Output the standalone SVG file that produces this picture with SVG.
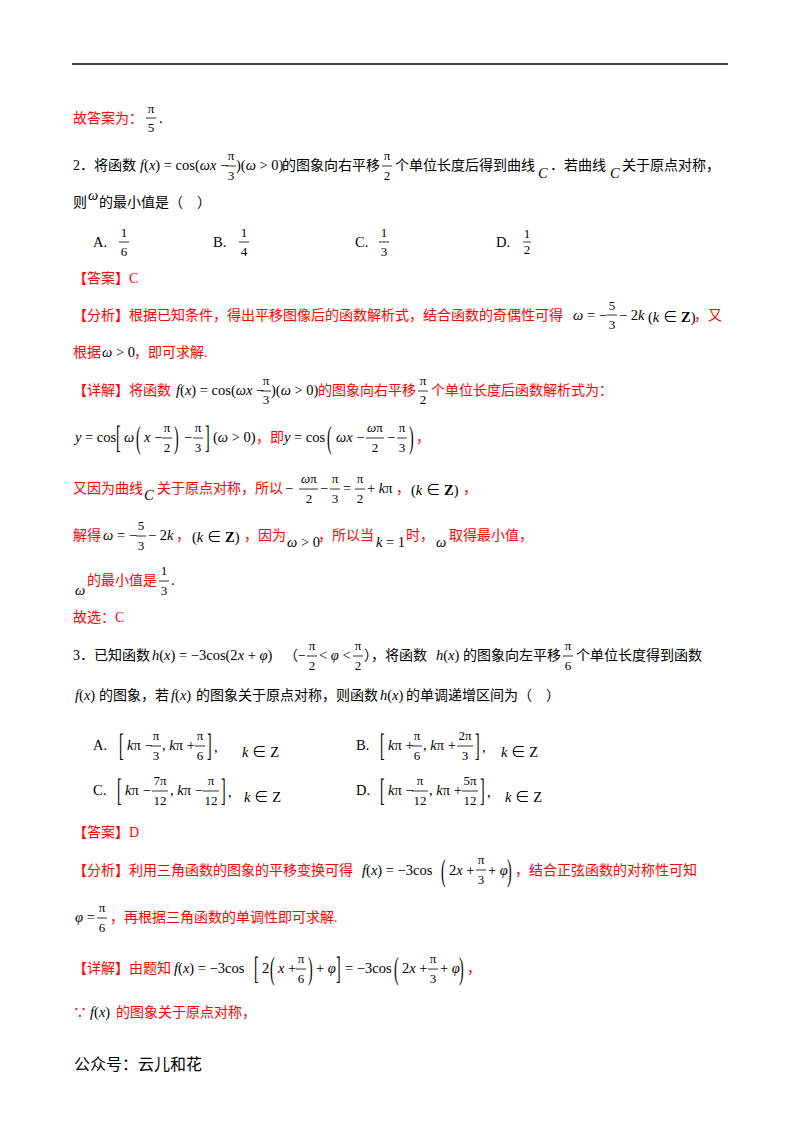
<svg xmlns="http://www.w3.org/2000/svg" width="800" height="1132" viewBox="0 0 800 1132">
<style>
text{font-family:"Liberation Serif","Noto Sans CJK SC",serif;font-size:14.5px;fill:#000}
.c{font-size:14px}
.r{fill:#ff0000;font-size:14px}
.i{font-style:italic}
.f text{font-size:13px;text-anchor:middle}
.f line{stroke:#000;stroke-width:0.8}
.bk{font-size:14px}
.ss{font-family:"Noto Sans CJK SC",sans-serif;font-size:16px}
</style>
<rect width="800" height="1132" fill="#fff"/>
<line x1="72" y1="64" x2="728" y2="64" stroke="#000" stroke-width="1.5"/>

<text x="73" y="123" class="r">故答案为：</text>
<g class="f"><text x="151" y="113">π</text><line x1="146" y1="118" x2="156" y2="118"/><text x="151" y="132">5</text></g>
<text x="159" y="123">.</text>

<text x="73" y="170" class="c">2．将函数</text>
<text x="140" y="170"><tspan class="i">f</tspan>(<tspan class="i">x</tspan>) = cos(<tspan class="i">ωx</tspan> −</text>
<g class="f"><text x="231" y="160">π</text><line x1="226" y1="166" x2="236" y2="166"/><text x="231" y="180">3</text></g>
<text x="236" y="170">)(<tspan class="i">ω</tspan> &gt; 0)</text>
<text x="282" y="170" class="c">的图象向右平移</text>
<g class="f"><text x="387" y="160">π</text><line x1="382" y1="166" x2="392" y2="166"/><text x="387" y="180">2</text></g>
<text x="395" y="170" class="c">个单位长度后得到曲线</text>
<text x="538" y="178" class="i" font-size="16">C</text>
<text x="550" y="170" class="c">．若曲线</text>
<text x="610" y="178" class="i" font-size="16">C</text>
<text x="622" y="170" class="c">关于原点对称，</text>

<text x="73" y="207" class="c">则</text><text x="88" y="200" class="i">ω</text><text x="99" y="207" class="c">的最小值是（　）</text>

<text x="93" y="247">A.</text>
<g class="f"><text x="124" y="237">1</text><line x1="119" y1="242" x2="129" y2="242"/><text x="124" y="256">6</text></g>
<text x="213" y="247">B.</text>
<g class="f"><text x="244" y="237">1</text><line x1="239" y1="242" x2="249" y2="242"/><text x="244" y="256">4</text></g>
<text x="355" y="247">C.</text>
<g class="f"><text x="384" y="237">1</text><line x1="379" y1="242" x2="389" y2="242"/><text x="384" y="256">3</text></g>
<text x="496" y="247">D.</text>
<g class="f"><text x="527" y="238" font-size="11">1</text><line x1="523" y1="242" x2="531" y2="242"/><text x="527" y="254" font-size="11">2</text></g>

<text x="73" y="283" class="r">【答案】C</text>

<text x="73" y="320" class="r">【分析】根据已知条件，得出平移图像后的函数解析式，结合函数的奇偶性可得</text>
<text x="573" y="320"><tspan class="i">ω</tspan> = −</text>
<g class="f"><text x="612" y="310">5</text><line x1="607" y1="315" x2="617" y2="315"/><text x="612" y="329">3</text></g>
<text x="619" y="320">− 2<tspan class="i">k</tspan></text>
<text x="648" y="322">(<tspan class="i">k</tspan> ∈ <tspan font-weight="bold">Z</tspan>)</text>
<text x="694" y="320" class="r">，又</text>
<text x="73" y="357" class="r">根据</text><text x="102" y="357"><tspan class="i">ω</tspan> &gt; 0</text><text x="134" y="357" class="r">，即可求解.</text>

<text x="73" y="395" class="r">【详解】将函数</text>
<text x="176" y="395"><tspan class="i">f</tspan>(<tspan class="i">x</tspan>) = cos(<tspan class="i">ωx</tspan> −</text>
<g class="f"><text x="266" y="385">π</text><line x1="261" y1="391" x2="271" y2="391"/><text x="266" y="404">3</text></g>
<text x="271" y="395">)(<tspan class="i">ω</tspan> &gt; 0)</text>
<text x="318" y="395" class="r">的图象向右平移</text>
<g class="f"><text x="423" y="385">π</text><line x1="418" y1="391" x2="428" y2="391"/><text x="423" y="404">2</text></g>
<text x="431" y="395" class="r">个单位长度后函数解析式为：</text>

<text x="75" y="442"><tspan class="i">y</tspan> = cos</text>
<text class="bk" transform="translate(116,448) scale(1,2.2)">[</text>
<text x="124" y="442" class="i">ω</text>
<text class="bk" transform="translate(136,448) scale(1,2.2)">(</text>
<text x="144" y="442"><tspan class="i">x</tspan> −</text>
<g class="f"><text x="167" y="432">π</text><line x1="162" y1="438" x2="172" y2="438"/><text x="167" y="452">2</text></g>
<text class="bk" transform="translate(174,448) scale(1,2.2)">)</text>
<text x="184" y="442">−</text>
<g class="f"><text x="198" y="432">π</text><line x1="193" y1="438" x2="203" y2="438"/><text x="198" y="452">3</text></g>
<text class="bk" transform="translate(205,448) scale(1,2.2)">]</text>
<text x="213" y="442">(<tspan class="i">ω</tspan> &gt; 0)</text><text x="256" y="442" class="r">，即</text>
<text x="284" y="442"><tspan class="i">y</tspan> = cos</text>
<text class="bk" transform="translate(327,448) scale(1,2.2)">(</text>
<text x="336" y="442"><tspan class="i">ωx</tspan> −</text>
<g class="f"><text x="375" y="432"><tspan class="i">ω</tspan>π</text><line x1="366" y1="438" x2="384" y2="438"/><text x="375" y="452">2</text></g>
<text x="387" y="442">−</text>
<g class="f"><text x="402" y="432">π</text><line x1="397" y1="438" x2="407" y2="438"/><text x="402" y="452">3</text></g>
<text class="bk" transform="translate(409,448) scale(1,2.2)">)</text>
<text x="416" y="442" class="r">，</text>

<text x="73" y="493" class="r">又因为曲线</text>
<text x="144" y="500" class="i" font-size="16">C</text>
<text x="157" y="493" class="r">关于原点对称，所以</text>
<text x="285" y="493">−</text>
<g class="f"><text x="309" y="483"><tspan class="i">ω</tspan>π</text><line x1="299" y1="489" x2="318" y2="489"/><text x="309" y="503">2</text></g>
<text x="320" y="493">−</text>
<g class="f"><text x="335" y="483">π</text><line x1="330" y1="489" x2="340" y2="489"/><text x="335" y="503">3</text></g>
<text x="343" y="493">=</text>
<g class="f"><text x="360" y="483">π</text><line x1="355" y1="489" x2="365" y2="489"/><text x="360" y="503">2</text></g>
<text x="367" y="493">+ <tspan class="i">k</tspan>π</text><text x="396" y="493" class="r">，</text>
<text x="411" y="495">(<tspan class="i">k</tspan> ∈ <tspan font-weight="bold">Z</tspan>)</text><text x="463" y="493" class="r">，</text>

<text x="73" y="540" class="r">解得</text>
<text x="103" y="540"><tspan class="i">ω</tspan> = −</text>
<g class="f"><text x="141" y="530">5</text><line x1="136" y1="536" x2="146" y2="536"/><text x="141" y="550">3</text></g>
<text x="148" y="540">− 2<tspan class="i">k</tspan></text><text x="176" y="540" class="r">，</text>
<text x="192" y="542">(<tspan class="i">k</tspan> ∈ <tspan font-weight="bold">Z</tspan>)</text><text x="244" y="540" class="r">，因为</text>
<text x="287" y="547"><tspan class="i">ω</tspan> &gt; 0</text><text x="318" y="540" class="r">，所以当</text>
<text x="376" y="547"><tspan class="i">k</tspan> = 1</text><text x="406" y="540" class="r">时，</text>
<text x="436" y="547" class="i">ω</text><text x="449" y="540" class="r">取得最小值，</text>

<text x="75" y="595" class="i">ω</text><text x="87" y="585" class="r">的最小值是</text>
<g class="f"><text x="164" y="575">1</text><line x1="159" y1="581" x2="169" y2="581"/><text x="164" y="595">3</text></g>
<text x="171" y="585">.</text>

<text x="73" y="622" class="r">故选：C</text>

<text x="73" y="660" class="c">3．已知函数</text>
<text x="152" y="660"><tspan class="i">h</tspan>(<tspan class="i">x</tspan>) = −3cos(2<tspan class="i">x</tspan> + <tspan class="i">φ</tspan>)</text>
<text x="284" y="660" class="c">（−</text>
<g class="f"><text x="312" y="650">π</text><line x1="307" y1="656" x2="317" y2="656"/><text x="312" y="670">2</text></g>
<text x="319" y="660">&lt; <tspan class="i">φ</tspan> &lt;</text>
<g class="f"><text x="358" y="650">π</text><line x1="353" y1="656" x2="363" y2="656"/><text x="358" y="670">2</text></g>
<text x="364" y="660" class="c">），将函数</text>
<text x="436" y="660"><tspan class="i">h</tspan>(<tspan class="i">x</tspan>)</text>
<text x="463" y="660" class="c">的图象向左平移</text>
<g class="f"><text x="568" y="650">π</text><line x1="563" y1="656" x2="573" y2="656"/><text x="568" y="670">6</text></g>
<text x="576" y="660" class="c">个单位长度得到函数</text>

<text x="75" y="700"><tspan class="i">f</tspan>(<tspan class="i">x</tspan>)</text>
<text x="99" y="700" class="c">的图象，若</text>
<text x="171" y="700"><tspan class="i">f</tspan>(<tspan class="i">x</tspan>)</text>
<text x="196" y="700" class="c">的图象关于原点对称，则函数</text>
<text x="380" y="700"><tspan class="i">h</tspan>(<tspan class="i">x</tspan>)</text>
<text x="406" y="700" class="c">的单调递增区间为（　）</text>

<text x="93" y="750">A.</text>
<text class="bk" transform="translate(119,756) scale(1,2.2)">[</text>
<text x="127" y="750"><tspan class="i">k</tspan>π −</text>
<g class="f"><text x="156" y="740">π</text><line x1="151" y1="746" x2="161" y2="746"/><text x="156" y="760">3</text></g>
<text x="162" y="750">, <tspan class="i">k</tspan>π +</text>
<g class="f"><text x="200" y="740">π</text><line x1="195" y1="746" x2="205" y2="746"/><text x="200" y="760">6</text></g>
<text class="bk" transform="translate(207,756) scale(1,2.2)">]</text><text x="214" y="752">,</text>
<text x="242" y="757"><tspan class="i">k</tspan> ∈ Z</text>

<text x="356" y="750">B.</text>
<text class="bk" transform="translate(380,756) scale(1,2.2)">[</text>
<text x="388" y="750"><tspan class="i">k</tspan>π +</text>
<g class="f"><text x="417" y="740">π</text><line x1="412" y1="746" x2="422" y2="746"/><text x="417" y="760">6</text></g>
<text x="423" y="750">, <tspan class="i">k</tspan>π +</text>
<g class="f"><text x="465" y="740">2π</text><line x1="457" y1="746" x2="473" y2="746"/><text x="465" y="760">3</text></g>
<text class="bk" transform="translate(475,756) scale(1,2.2)">]</text><text x="482" y="752">,</text>
<text x="501" y="757"><tspan class="i">k</tspan> ∈ Z</text>

<text x="93" y="795">C.</text>
<text class="bk" transform="translate(117,801) scale(1,2.2)">[</text>
<text x="125" y="795"><tspan class="i">k</tspan>π −</text>
<g class="f"><text x="160" y="785">7π</text><line x1="152" y1="791" x2="168" y2="791"/><text x="160" y="805">12</text></g>
<text x="170" y="795">, <tspan class="i">k</tspan>π −</text>
<g class="f"><text x="211" y="785">π</text><line x1="203" y1="791" x2="219" y2="791"/><text x="211" y="805">12</text></g>
<text class="bk" transform="translate(221,801) scale(1,2.2)">]</text><text x="228" y="797">,</text>
<text x="244" y="802"><tspan class="i">k</tspan> ∈ Z</text>

<text x="356" y="795">D.</text>
<text class="bk" transform="translate(380,801) scale(1,2.2)">[</text>
<text x="388" y="795"><tspan class="i">k</tspan>π −</text>
<g class="f"><text x="420" y="785">π</text><line x1="412" y1="791" x2="428" y2="791"/><text x="420" y="805">12</text></g>
<text x="429" y="795">, <tspan class="i">k</tspan>π +</text>
<g class="f"><text x="470" y="785">5π</text><line x1="462" y1="791" x2="478" y2="791"/><text x="470" y="805">12</text></g>
<text class="bk" transform="translate(480,801) scale(1,2.2)">]</text><text x="487" y="797">,</text>
<text x="505" y="802"><tspan class="i">k</tspan> ∈ Z</text>

<text x="73" y="837" class="r">【答案】D</text>

<text x="73" y="875" class="r">【分析】利用三角函数的图象的平移变换可得</text>
<text x="362" y="875"><tspan class="i">f</tspan>(<tspan class="i">x</tspan>) = −3cos</text>
<text class="bk" transform="translate(441,881) scale(1,2.2)">(</text>
<text x="449" y="875">2<tspan class="i">x</tspan> +</text>
<g class="f"><text x="481" y="864">π</text><line x1="476" y1="870" x2="486" y2="870"/><text x="481" y="884">3</text></g>
<text x="488" y="875">+ <tspan class="i">φ</tspan></text>
<text class="bk" transform="translate(507,881) scale(1,2.2)">)</text>
<text x="515" y="875" class="r">，结合正弦函数的对称性可知</text>

<text x="75" y="922"><tspan class="i">φ</tspan> =</text>
<g class="f"><text x="102" y="912">π</text><line x1="97" y1="918" x2="107" y2="918"/><text x="102" y="932">6</text></g>
<text x="110" y="922" class="r">，再根据三角函数的单调性即可求解.</text>

<text x="73" y="973" class="r">【详解】由题知</text>
<text x="174" y="973"><tspan class="i">f</tspan>(<tspan class="i">x</tspan>) = −3cos</text>
<text class="bk" transform="translate(254,979) scale(1,2.2)">[</text>
<text x="262" y="973">2</text>
<text class="bk" transform="translate(270,979) scale(1,2.2)">(</text>
<text x="278" y="973"><tspan class="i">x</tspan> +</text>
<g class="f"><text x="301" y="963">π</text><line x1="296" y1="969" x2="306" y2="969"/><text x="301" y="983">6</text></g>
<text class="bk" transform="translate(308,979) scale(1,2.2)">)</text>
<text x="316" y="973">+ <tspan class="i">φ</tspan></text>
<text class="bk" transform="translate(336,979) scale(1,2.2)">]</text>
<text x="345" y="973">= −3cos</text>
<text class="bk" transform="translate(394,979) scale(1,2.2)">(</text>
<text x="402" y="973">2<tspan class="i">x</tspan> +</text>
<g class="f"><text x="433" y="963">π</text><line x1="428" y1="969" x2="438" y2="969"/><text x="433" y="983">3</text></g>
<text x="440" y="973">+ <tspan class="i">φ</tspan></text>
<text class="bk" transform="translate(459,979) scale(1,2.2)">)</text>
<text x="467" y="973" class="r">，</text>

<text x="73" y="1017" class="r">∵</text>
<text x="90" y="1017"><tspan class="i">f</tspan>(<tspan class="i">x</tspan>)</text>
<text x="116" y="1017" class="r">的图象关于原点对称，</text>

<text x="74" y="1070" class="ss">公众号：云儿和花</text>
</svg>
